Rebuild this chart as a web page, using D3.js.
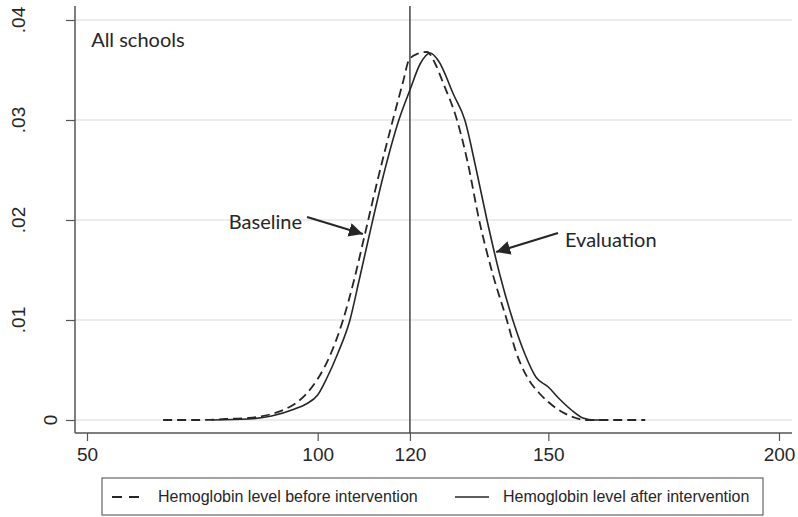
<!DOCTYPE html>
<html>
<head>
<meta charset="utf-8">
<script src="https://cdn.jsdelivr.net/npm/d3@7"></script>
<style>
  body { margin: 0; background: #fff; }
  svg { display: block; }
</style>
</head>
<body>
<div id="chart"></div>
<script>
// kernel density of hemoglobin
const baselineHb = [66.5, 70, 75, 80, 85, 90, 93, 95, 97.5, 100, 103, 105.5, 108, 110.3, 113, 116.3, 118.5, 119.8, 121.5, 123.7, 125.5, 127.2, 130.2, 132.5, 135, 138, 141, 143, 145.4, 148, 150, 153, 156, 158, 165, 171];
const baselineDen = [0, 0, 0, 0.0001, 0.0002, 0.0006, 0.0011, 0.0016, 0.0026, 0.0041, 0.0068, 0.0100, 0.0142, 0.0187, 0.0240, 0.0300, 0.0338, 0.0360, 0.0366, 0.0368, 0.0356, 0.0337, 0.0300, 0.0258, 0.0200, 0.0145, 0.0100, 0.0068, 0.0043, 0.0027, 0.0018, 0.0008, 0.0002, 0, 0, 0];

const evalHb = [77, 85, 90, 95, 97.5, 100, 102, 104.4, 107, 109, 111.3, 114, 117.6, 120, 122.2, 124.4, 126.2, 129.5, 131.9, 134.3, 136.7, 139.5, 142.3, 145, 147.3, 150, 152.2, 155, 157.5, 160, 163];
const evalDen = [0, 0.0001, 0.0004, 0.0011, 0.0016, 0.0025, 0.0042, 0.0067, 0.0100, 0.0140, 0.0187, 0.0240, 0.0300, 0.0330, 0.0356, 0.0367, 0.0359, 0.0325, 0.0300, 0.0252, 0.0200, 0.0145, 0.0100, 0.0065, 0.0043, 0.0033, 0.0022, 0.0010, 0.0002, 0, 0];

const xTicks = [50, 100, 120, 150, 200];
const yTicks = [0, 0.01, 0.02, 0.03, 0.04];
const yTickLabels = ["0", ".01", ".02", ".03", ".04"];
const refLine = 120;
const legendLabels = ["Hemoglobin level before intervention", "Hemoglobin level after intervention"];

const width = 798, height = 517;
const axisLeft = 75, axisRight = 792, axisTop = 6, axisBottom = 433;

const svg = d3.select('#chart').append('svg')
  .attr('width', width).attr('height', height);

const x = d3.scaleLinear().domain([50, 200]).range([87, 779]);
const y = d3.scaleLinear().domain([0, 0.04]).range([420, 20]);

const ink = '#262626';
const sans = '"Liberation Sans", Arial, sans-serif';
const note = 'Lato, "Open Sans", sans-serif';

// grid lines
svg.append('g').selectAll('line')
  .data(yTicks).enter().append('line')
  .attr('x1', axisLeft).attr('x2', axisRight)
  .attr('y1', d => y(d)).attr('y2', d => y(d))
  .attr('stroke', '#e6e6e6').attr('stroke-width', 1.5);

// y axis
const yAxis = svg.append('g').attr('transform', `translate(${axisLeft},0)`)
  .call(d3.axisLeft(y).tickValues(yTicks).tickSize(9).tickFormat(''));
yAxis.select('.domain').attr('d', `M0,${axisTop}V${axisBottom}`).attr('stroke', '#555').attr('stroke-width', 1.5);
yAxis.selectAll('.tick line').attr('stroke', '#555').attr('stroke-width', 1.2);

svg.append('g').selectAll('text')
  .data(yTicks).enter().append('text')
  .attr('transform', (d, i) => `translate(${yTickLabels[i] === '0' ? 57 : 25},${y(d)}) rotate(-90)`)
  .attr('text-anchor', 'middle')
  .attr('font-family', sans).attr('font-size', 19).attr('fill', ink)
  .text((d, i) => yTickLabels[i]);

// x axis
const xAxis = svg.append('g').attr('transform', `translate(0,${axisBottom})`)
  .call(d3.axisBottom(x).tickValues(xTicks).tickSize(8).tickPadding(7).tickFormat(d3.format('d')));
xAxis.select('.domain').attr('d', `M${axisLeft},0H${axisRight}`).attr('stroke', '#555').attr('stroke-width', 1.5);
xAxis.selectAll('.tick line').attr('stroke', '#555').attr('stroke-width', 1.2);
xAxis.selectAll('.tick text').attr('font-family', sans).attr('font-size', 19).attr('fill', ink);

// vertical reference line
svg.append('line')
  .attr('x1', x(refLine)).attr('x2', x(refLine))
  .attr('y1', axisTop).attr('y2', axisBottom)
  .attr('stroke', '#444').attr('stroke-width', 1.5);

// density curves
const line = d3.line().curve(d3.curveMonotoneX);
const basePts = baselineHb.map((v, i) => [x(v), y(baselineDen[i])]);
const evalPts = evalHb.map((v, i) => [x(v), y(evalDen[i])]);

svg.append('path').attr('d', line(evalPts))
  .attr('fill', 'none').attr('stroke', ink).attr('stroke-width', 1.6);
svg.append('path').attr('d', line(basePts))
  .attr('fill', 'none').attr('stroke', ink).attr('stroke-width', 1.8)
  .attr('stroke-dasharray', '9,5');

// annotations
svg.append('defs').append('marker')
  .attr('id', 'head').attr('viewBox', '0 0 10 10')
  .attr('refX', 10).attr('refY', 5)
  .attr('markerWidth', 7).attr('markerHeight', 7)
  .attr('markerUnits', 'strokeWidth').attr('orient', 'auto')
  .append('path').attr('d', 'M0,0L10,5L0,10Z').attr('fill', ink);

svg.append('text').attr('x', x(50.9)).attr('y', 47)
  .attr('font-family', note).attr('font-size', 20).attr('fill', ink)
  .text('All schools');

svg.append('text').attr('x', x(96.6)).attr('y', 229)
  .attr('text-anchor', 'end')
  .attr('font-family', note).attr('font-size', 20).attr('fill', ink)
  .text('Baseline');
svg.append('line')
  .attr('x1', x(97.7)).attr('y1', y(0.0203))
  .attr('x2', x(109.8)).attr('y2', y(0.0186))
  .attr('stroke', ink).attr('stroke-width', 2).attr('marker-end', 'url(#head)');

svg.append('text').attr('x', x(153.6)).attr('y', 247)
  .attr('font-family', note).attr('font-size', 20).attr('fill', ink)
  .text('Evaluation');
svg.append('line')
  .attr('x1', x(152.1)).attr('y1', y(0.0187))
  .attr('x2', x(138.7)).attr('y2', y(0.0168))
  .attr('stroke', ink).attr('stroke-width', 2).attr('marker-end', 'url(#head)');

// legend
const lg = svg.append('g');
lg.append('rect').attr('x', 102).attr('y', 478).attr('width', 661).attr('height', 37)
  .attr('fill', '#fff').attr('stroke', '#666').attr('stroke-width', 1.2);
lg.append('line').attr('x1', 112).attr('x2', 139).attr('y1', 497).attr('y2', 497)
  .attr('stroke', ink).attr('stroke-width', 1.8).attr('stroke-dasharray', '10,7');
lg.append('text').attr('x', 158).attr('y', 502)
  .attr('font-family', sans).attr('font-size', 16).attr('fill', ink)
  .text(legendLabels[0]);
lg.append('line').attr('x1', 455).attr('x2', 489).attr('y1', 497).attr('y2', 497)
  .attr('stroke', ink).attr('stroke-width', 1.6);
lg.append('text').attr('x', 503).attr('y', 502)
  .attr('font-family', sans).attr('font-size', 16).attr('fill', ink)
  .text(legendLabels[1]);
</script>
</body>
</html>
